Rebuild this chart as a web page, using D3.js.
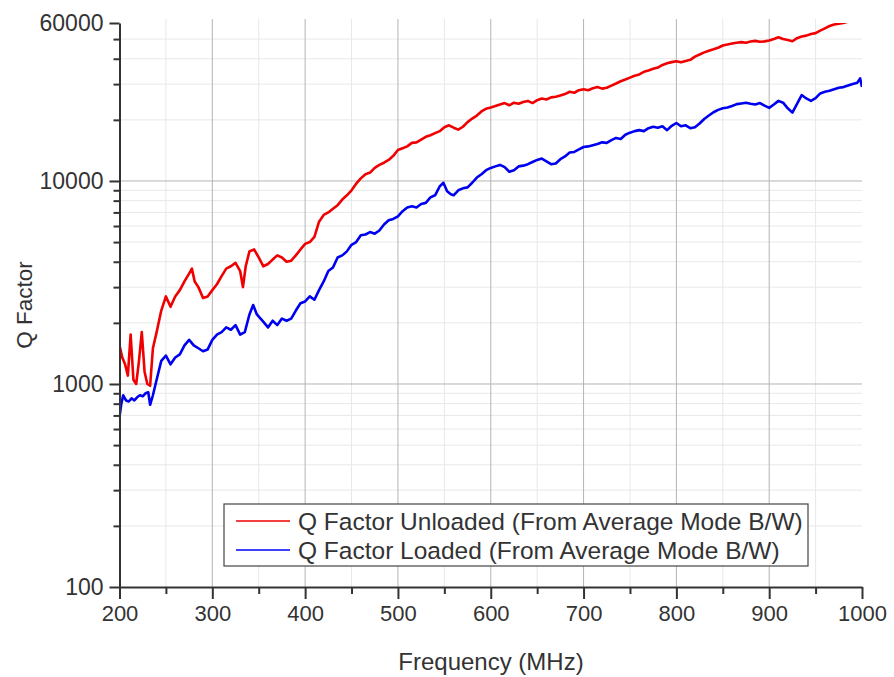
<!DOCTYPE html>
<html>
<head>
<meta charset="utf-8">
<script src="https://cdn.jsdelivr.net/npm/d3@7"></script>
<style>
  body { margin: 0; background: #fff; }
  svg text { font-family: "Liberation Sans", Arial, sans-serif; fill: #333; }
  .axis path, .axis line { stroke: #333; stroke-width: 2; }
</style>
</head>
<body>
<svg id="chart" width="894" height="677"></svg>
<script>
// Q factor unloaded (red)
const freqUnloaded = [200,203,206,209,212,215,218,221,224,227,230,233,236,240,245,250,255,260,265,270,275,278,281,285,290,295,300,305,310,315,320,325,330,333,336,340,345,350,355,360,365,370,375,380,385,390,395,400,405,410,415,420,425,430,435,440,445,450,455,460,465,470,475,480,485,490,495,500,505,510,515,520,525,530,535,540,545,550,555,560,565,570,575,580,585,590,595,600,605,610,615,620,625,630,635,640,645,650,655,660,665,670,675,680,685,690,695,700,705,710,715,720,725,730,735,740,745,750,755,760,765,770,775,780,785,790,795,800,805,810,815,820,825,830,835,840,845,850,855,860,865,870,875,880,885,890,895,900,905,910,915,920,925,930,935,940,945,950,955,960,965,970,975,980,985,990];
const qUnloaded = [1550,1350,1250,1100,1750,1050,1000,1300,1800,1150,1000,980,1500,1800,2300,2700,2400,2700,2900,3200,3500,3700,3200,3000,2650,2700,2900,3100,3400,3700,3800,3950,3600,3000,3800,4500,4600,4200,3800,3900,4100,4300,4200,4000,4050,4300,4600,4900,5000,5300,6300,6800,7000,7300,7600,8100,8500,9000,9700,10300,10800,11000,11600,12000,12300,12700,13300,14200,14500,14800,15400,15500,16000,16500,16800,17200,17600,18400,18800,18300,17900,18500,19500,20300,21000,22000,22700,23000,23400,23800,24200,23600,24300,24000,24500,24800,24200,25000,25500,25200,25800,26000,26400,26800,27500,27200,28000,28300,28000,28600,29000,28500,28800,29500,30200,31000,31600,32300,33000,33500,34500,35000,35700,36200,37300,38000,38500,38900,38400,39000,39500,41000,42000,43000,43800,44500,45300,46500,47000,47500,48000,48300,48000,48600,49000,48500,48700,49200,50000,51000,50000,49500,48800,50500,51500,52000,53000,53500,55000,56500,58000,59000,59500,60000,61000,62000];

// Q factor loaded (blue)
const freqLoaded = [200,202,204,207,210,213,216,219,222,225,228,231,233,236,240,245,250,255,260,265,270,275,280,285,290,295,300,305,310,315,320,325,330,335,340,344,348,352,356,360,365,370,375,380,385,390,395,400,405,410,415,420,425,430,435,440,445,450,455,460,465,470,475,480,485,490,495,500,505,510,515,520,525,530,535,540,545,549,553,557,560,565,570,575,580,585,590,595,600,605,610,615,620,625,630,635,640,645,650,655,660,665,670,675,680,685,690,695,700,705,710,715,720,725,730,735,740,745,750,755,760,765,770,775,780,785,790,795,800,805,810,815,820,825,830,835,840,845,850,855,860,865,870,875,880,885,890,895,900,905,910,915,920,925,930,935,940,945,950,955,960,965,970,975,980,985,990,995,998,1000];
const qLoaded = [690,800,880,830,820,850,830,860,880,870,900,910,790,880,1050,1300,1380,1250,1350,1400,1550,1650,1550,1500,1450,1480,1650,1750,1800,1900,1850,1950,1750,1800,2200,2450,2200,2100,2000,1900,2050,1950,2100,2050,2100,2300,2500,2550,2700,2600,2900,3200,3600,3750,4200,4300,4500,4850,5000,5400,5450,5600,5500,5700,6100,6400,6500,6700,7100,7400,7500,7400,7700,7800,8300,8500,9400,9800,8900,8600,8500,9000,9200,9300,9800,10400,10800,11300,11600,11800,12000,11700,11100,11300,11800,11900,12100,12400,12700,12900,12500,12100,12200,12800,13200,13800,13900,14300,14700,14800,15000,15200,15500,15400,15900,16300,16100,16900,17300,17600,17800,17600,18200,18500,18300,18600,17800,18700,19300,18600,18800,18200,18400,19200,20200,21000,21800,22400,22800,23000,23400,23900,24100,24300,24000,23800,24200,23500,22900,23800,24800,24300,22800,21700,24000,26500,25500,24800,25600,27000,27500,27800,28300,28800,29000,29500,30000,30500,32000,29000];

const xMajor = [200,300,400,500,600,700,800,900,1000];
const xMinor = [250,350,450,550,650,750,850,950];
const yMajor = [100,1000,10000,60000];
const yMinor = [200,300,400,500,600,700,800,900,2000,3000,4000,5000,6000,7000,8000,9000,20000,30000,40000,50000];

const legendLabels = ["Q Factor Unloaded (From Average Mode B/W)", "Q Factor Loaded (From Average Mode B/W)"];
const colors = ["#f00000", "#0000f0"];

const svg = d3.select("#chart");
const plotLeft = 119.5, plotRight = 862, plotTop = 23, plotBottom = 587;

const x = d3.scaleLinear().domain([200, 1000]).range([plotLeft, plotRight]);
const y = d3.scaleLog().domain([100, 60000]).range([plotBottom, plotTop]);

// grid
const grid = svg.append("g");
grid.selectAll("line.vmin").data(xMinor).enter().append("line")
  .attr("x1", d => x(d)).attr("x2", d => x(d)).attr("y1", plotTop - 4).attr("y2", plotBottom)
  .attr("stroke", "#e8e8e8").attr("stroke-width", 1);
grid.selectAll("line.hmin").data(yMinor).enter().append("line")
  .attr("x1", plotLeft).attr("x2", plotRight).attr("y1", d => y(d)).attr("y2", d => y(d))
  .attr("stroke", "#e8e8e8").attr("stroke-width", 1);
grid.selectAll("line.vmaj").data(xMajor.slice(1, -1)).enter().append("line")
  .attr("x1", d => x(d)).attr("x2", d => x(d)).attr("y1", plotTop - 4).attr("y2", plotBottom)
  .attr("stroke", "#b4b4b4").attr("stroke-width", 1);
grid.selectAll("line.hmaj").data([1000, 10000]).enter().append("line")
  .attr("x1", plotLeft).attr("x2", plotRight).attr("y1", d => y(d)).attr("y2", d => y(d))
  .attr("stroke", "#b4b4b4").attr("stroke-width", 1);

// clip to plot area
svg.append("clipPath").attr("id", "plot").append("rect")
  .attr("x", plotLeft).attr("y", plotTop).attr("width", plotRight - plotLeft).attr("height", plotBottom - plotTop);

const line = d3.line().x(d => x(d[0])).y(d => y(d[1]));
const series = [
  d3.zip(freqUnloaded, qUnloaded),
  d3.zip(freqLoaded, qLoaded)
];
svg.append("g").attr("clip-path", "url(#plot)")
  .selectAll("path").data(series).enter().append("path")
  .attr("d", line)
  .attr("fill", "none")
  .attr("stroke", (d, i) => colors[i])
  .attr("stroke-width", 2.6)
  .attr("stroke-linejoin", "round");

// axes
const xAxis = svg.append("g").attr("class", "axis").attr("transform", translate(0, plotBottom))
  .call(d3.axisBottom(x).tickValues(xMajor).tickFormat(d3.format("d")).tickSize(12).tickSizeOuter(0).tickPadding(6));
xAxis.selectAll("text").attr("font-size", 22);
svg.append("g").attr("class", "axis").attr("transform", translate(0, plotBottom))
  .call(d3.axisBottom(x).tickValues(xMinor).tickFormat("").tickSize(7).tickSizeOuter(0))
  .select("path").remove();

const yAxis = svg.append("g").attr("class", "axis").attr("transform", translate(plotLeft, 0))
  .call(d3.axisLeft(y).tickValues(yMajor).tickFormat(d3.format("d")).tickSize(10).tickSizeOuter(0).tickPadding(6));
yAxis.selectAll("text").attr("font-size", 23);
svg.append("g").attr("class", "axis").attr("transform", translate(plotLeft, 0))
  .call(d3.axisLeft(y).tickValues(yMinor).tickFormat("").tickSize(6).tickSizeOuter(0))
  .select("path").remove();
svg.selectAll(".axis text").attr("fill", "#333");

// axis titles
svg.append("text").attr("x", 491).attr("y", 670).attr("text-anchor", "middle")
  .attr("font-size", 24).text("Frequency (MHz)");
svg.append("text").attr("transform", "translate(32,305) rotate(-90)").attr("text-anchor", "middle")
  .attr("font-size", 22.5).text("Q Factor");

// legend
const lg = svg.append("g").attr("transform", translate(224, 504));
lg.append("rect").attr("width", 584).attr("height", 62)
  .attr("fill", "#fff").attr("stroke", "#444").attr("stroke-width", 1.2);
const rows = lg.selectAll("g.row").data(legendLabels).enter().append("g")
  .attr("transform", (d, i) => translate(0, 17 + i * 29));
rows.append("line").attr("x1", 12).attr("x2", 66)
  .attr("stroke", (d, i) => colors[i]).attr("stroke-width", 1.5);
rows.append("text").attr("x", 74).attr("dy", "0.35em").attr("font-size", 24.5).text(d => d);

function translate(a, b) {
  return "translate(" + a + "," + b + ")";
}
</script>
</body>
</html>
